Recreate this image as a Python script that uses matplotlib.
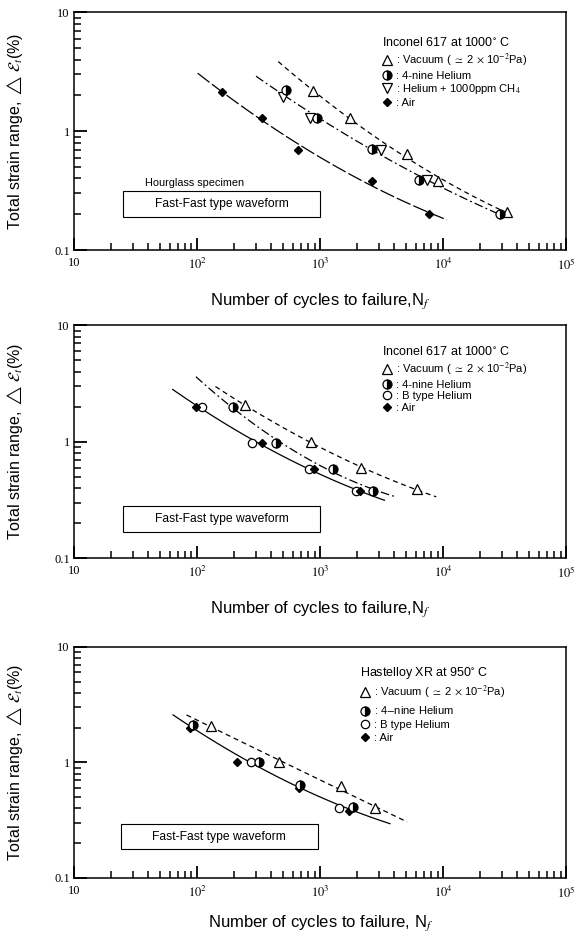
import numpy as np
import matplotlib
matplotlib.use("Agg")
import matplotlib.pyplot as plt
from matplotlib.lines import Line2D
from matplotlib.patches import Rectangle
from matplotlib.ticker import LogLocator, NullFormatter, FixedLocator, FixedFormatter

# === DATA ===
# Panel 1 : Inconel 617, hourglass specimen
vac1_n = [870, 1740, 5100, 9000, 32700]
vac1_e = [2.18, 1.28, 0.64, 0.38, 0.21]
he1_n = [530, 950, 2650, 6400, 28900]
he1_e = [2.2, 1.28, 0.71, 0.39, 0.20]
ch4_n = [500, 820, 3100, 7400]
ch4_e = [1.95, 1.28, 0.70, 0.39]
air1_n = [160, 335, 655, 2650, 7600]
air1_e = [2.15, 1.30, 0.70, 0.38, 0.20]

# Panel 2 : Inconel 617
vac2_n = [245, 840, 2140, 6070]
vac2_e = [2.05, 1.0, 0.60, 0.39]
he2_n = [195, 440, 1260, 2710]
he2_e = [2.0, 0.98, 0.59, 0.38]
bt2_n = [110, 280, 815, 1950]
bt2_e = [2.0, 0.97, 0.58, 0.38]
air2_n = [98, 336, 890, 2100]
air2_e = [2.0, 0.97, 0.58, 0.38]

# Panel 3 : Hastelloy XR
vac3_n = [130, 460, 1470, 2800]
vac3_e = [2.05, 1.0, 0.62, 0.40]
he3_n = [93, 320, 680, 1850]
he3_e = [2.1, 1.0, 0.64, 0.41]
bt3_n = [275, 1430]
bt3_e = [1.0, 0.40]
air3_n = [88, 210, 670, 1700]
air3_e = [2.0, 1.0, 0.60, 0.38]

x_ticks = [10, 1e2, 1e3, 1e4, 1e5]
x_ticklabels = ["10", r"$10^2$", r"$10^3$", r"$10^4$", r"$10^5$"]
y_ticks = [0.1, 1, 10]
y_ticklabels = ["0.1", "1", "10"]

# === Styling ===
plt.rcParams.update({
    "font.family": ["Liberation Sans", "DejaVu Sans"],
    "mathtext.fontset": "stix",
    "axes.linewidth": 1.1,
    "xtick.direction": "in",
    "ytick.direction": "in",
    "xtick.major.pad": 5,
    "ytick.major.pad": 3,
})

MARK = {
    "vac": dict(marker="^", markersize=7, markerfacecolor="white", markeredgecolor="black", markeredgewidth=0.9),
    "he": dict(marker="o", markersize=6.5, fillstyle="right", markerfacecolor="black",
               markerfacecoloralt="white", markeredgecolor="black", markeredgewidth=0.9),
    "ch4": dict(marker="v", markersize=7, markerfacecolor="white", markeredgecolor="black", markeredgewidth=0.9),
    "bt": dict(marker="o", markersize=6, markerfacecolor="white", markeredgecolor="black", markeredgewidth=0.9),
    "air": dict(marker="D", markersize=4.5, markerfacecolor="black", markeredgecolor="black"),
}
LS = {
    "dash": (0, (4, 3)),
    "dashdot": (0, (7, 2.5, 1.5, 2.5)),
    "long": (0, (12, 2.5)),
    "solid": "-",
}


def fit_curve(ax, groups, ls, pad_lo=0.22, pad_hi=0.15):
    n = np.concatenate([np.asarray(g[0], float) for g in groups])
    e = np.concatenate([np.asarray(g[1], float) for g in groups])
    ln, le = np.log10(n), np.log10(e)
    c = np.polyfit(ln, le, 2)
    xs = np.linspace(ln.min() - pad_lo, ln.max() + pad_hi, 100)
    ax.plot(10 ** xs, 10 ** np.polyval(c, xs), color="black", lw=0.9, ls=LS[ls], zorder=1)


def setup_axes(ax, xlabel, xlabel_y):
    ax.set_xscale("log")
    ax.set_yscale("log")
    ax.set_xlim(10, 1e5)
    ax.set_ylim(0.1, 10)
    ax.xaxis.set_major_locator(FixedLocator(x_ticks))
    ax.xaxis.set_major_formatter(FixedFormatter(x_ticklabels))
    ax.yaxis.set_major_locator(FixedLocator(y_ticks))
    ax.yaxis.set_major_formatter(FixedFormatter(y_ticklabels))
    ax.xaxis.set_minor_locator(LogLocator(base=10, subs=np.arange(2, 10), numticks=50))
    ax.yaxis.set_minor_locator(LogLocator(base=10, subs=np.arange(2, 10), numticks=50))
    ax.xaxis.set_minor_formatter(NullFormatter())
    ax.yaxis.set_minor_formatter(NullFormatter())
    for lab in ax.get_xticklabels() + ax.get_yticklabels():
        lab.set_fontfamily("Liberation Serif")
        lab.set_fontsize(9)
    ax.tick_params(which="major", direction="in", length=9, width=1.3,
                   colors="black", bottom=True, left=True, top=False, right=False)
    ax.tick_params(which="minor", direction="in", length=5, width=1.1,
                   colors="black", bottom=True, left=True, top=False, right=False)
    ax.set_ylabel(r"Total strain range, $\triangle\,\mathcal{E}_t$(%)", fontsize=11.5)
    ax.yaxis.set_label_coords(-0.10, 0.5)
    ax.set_xlabel(xlabel, fontsize=12)
    ax.xaxis.set_label_coords(0.5, xlabel_y)


def draw_points(ax, n, e, key):
    ax.plot(n, e, linestyle="none", zorder=3, **MARK[key])


def draw_legend(ax, title, items, anchor, spacing):
    handles = [Line2D([], [], linestyle="none", **MARK[k]) for k, _ in items]
    labels = [lab for _, lab in items]
    leg = ax.legend(handles, labels, loc="upper left", bbox_to_anchor=anchor, frameon=False,
                    title=title, alignment="left", fontsize=8, title_fontsize=9,
                    handlelength=1.0, handletextpad=0.3, labelspacing=spacing,
                    borderpad=0.0, borderaxespad=0.0)
    leg._legend_box.sep = 2


def wave_box(ax, x0, y0, w, h):
    ax.add_patch(Rectangle((x0, y0), w, h, transform=ax.transAxes, fill=False, lw=0.8, zorder=2))
    ax.text(x0 + w / 2, y0 + h / 2, "Fast-Fast type waveform", transform=ax.transAxes,
            ha="center", va="center", fontsize=8.7)


fig = plt.figure(figsize=(5.88, 9.40), dpi=100)
ax1 = fig.add_axes([0.126, 0.734, 0.837, 0.253])
ax2 = fig.add_axes([0.126, 0.406, 0.837, 0.248])
ax3 = fig.add_axes([0.126, 0.066, 0.837, 0.246])

vac_label = r": Vacuum ( $\simeq$ 2 $\times$ 10$^{-2}$Pa)"

# === Panel 1 ===
setup_axes(ax1, r"Number of cycles to failure,N$_f$", -0.175)
fit_curve(ax1, [(air1_n, air1_e)], "long", 0.2, 0.15)
fit_curve(ax1, [(he1_n, he1_e), (ch4_n, ch4_e)], "dashdot", 0.22, 0.02)
fit_curve(ax1, [(vac1_n, vac1_e)], "dash", 0.28, 0.03)
draw_points(ax1, ch4_n, ch4_e, "ch4")
draw_points(ax1, vac1_n, vac1_e, "vac")
draw_points(ax1, he1_n, he1_e, "he")
draw_points(ax1, air1_n, air1_e, "air")
draw_legend(ax1, "Inconel 617 at 1000$^{\\circ}$ C",
            [("vac", vac_label), ("he", ": 4-nine Helium"),
             ("ch4", r": Helium + 1000ppm CH$_4$"), ("air", ": Air")],
            (0.625, 0.90), 0.15)
ax1.text(0.245, 0.283, "Hourglass specimen", transform=ax1.transAxes,
         ha="center", va="center", fontsize=7.8)
wave_box(ax1, 0.10, 0.14, 0.40, 0.11)

# === Panel 2 ===
setup_axes(ax2, r"Number of cycles to failure,N$_f$", -0.175)
fit_curve(ax2, [(air2_n, air2_e), (bt2_n, bt2_e)], "solid", 0.19, 0.2)
fit_curve(ax2, [(he2_n, he2_e)], "dashdot", 0.3, 0.19)
fit_curve(ax2, [(vac2_n, vac2_e)], "dash", 0.24, 0.16)
draw_points(ax2, vac2_n, vac2_e, "vac")
draw_points(ax2, bt2_n, bt2_e, "bt")
draw_points(ax2, he2_n, he2_e, "he")
draw_points(ax2, air2_n, air2_e, "air")
draw_legend(ax2, "Inconel 617 at 1000$^{\\circ}$ C",
            [("vac", vac_label), ("he", ": 4-nine Helium"),
             ("bt", ": B type Helium"), ("air", ": Air")],
            (0.625, 0.915), 0.15)
wave_box(ax2, 0.10, 0.112, 0.40, 0.111)

# === Panel 3 ===
setup_axes(ax3, r"Number of cycles to failure, N$_f$", -0.155)
fit_curve(ax3, [(he3_n, he3_e), (bt3_n, bt3_e), (air3_n, air3_e)], "solid", 0.14, 0.3)
fit_curve(ax3, [(vac3_n, vac3_e)], "dash", 0.2, 0.26)
draw_points(ax3, vac3_n, vac3_e, "vac")
draw_points(ax3, bt3_n, bt3_e, "bt")
draw_points(ax3, air3_n, air3_e, "air")
draw_points(ax3, he3_n, he3_e, "he")
draw_legend(ax3, "Hastelloy XR at 950$^{\\circ}$ C",
            [("vac", vac_label), ("he", ": 4$-$nine Helium"),
             ("bt", ": B type Helium"), ("air", ": Air")],
            (0.58, 0.92), 0.3)
wave_box(ax3, 0.095, 0.124, 0.40, 0.11)

fig.savefig("out.png", dpi=100)
plt.close(fig)
